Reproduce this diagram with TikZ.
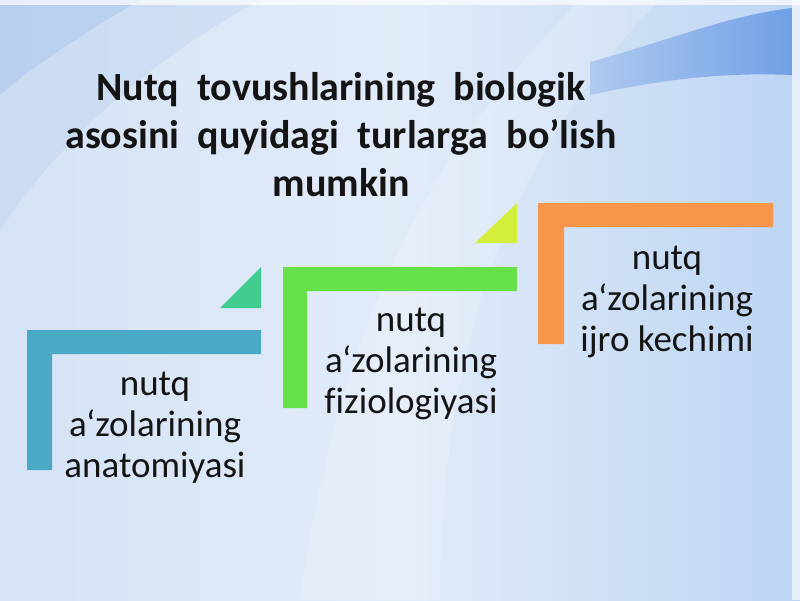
\documentclass[tikz,border=0pt]{standalone}
\usepackage{fontspec}
\setmainfont{Carlito}[Ligatures=NoCommon]
\usepackage{xcolor}
\usepackage{tikz}

\definecolor{bgmid}{HTML}{E2EBF8}
\definecolor{bgleft}{HTML}{D5E3F5}
\definecolor{bgright}{HTML}{BDD5F3}
\definecolor{swoosh}{HTML}{B3CBEE}
\definecolor{bandl}{HTML}{B0CAEF}
\definecolor{bandr}{HTML}{6FA0E6}
\definecolor{barblue}{HTML}{4AAAC5}
\definecolor{tribluegreen}{HTML}{40CC8F}
\definecolor{bargreen}{HTML}{66E14A}
\definecolor{triyellow}{HTML}{D4EE3C}
\definecolor{barorange}{HTML}{F7954A}

\begin{document}
\begin{tikzpicture}[x=1pt, y=-1pt,
    txt/.style={align=center, text=black!92, inner sep=0pt, font=\fontsize{37}{41}\selectfont},
    heading/.style={align=center, text=black!92, inner sep=0pt, font=\bfseries\fontsize{40}{48}\selectfont}]
    \useasboundingbox (0,0) rectangle (800,600);

    \shade[left color=bgleft, right color=bgright, middle color=bgmid] (0,0) rectangle (800,600);
    \fill[swoosh, opacity=0.8] (0,0) -- (140,0) .. controls (90,30) and (40,60) .. (0,95) -- cycle;
    \fill[swoosh, opacity=0.3] (0,95) .. controls (40,60) and (90,30) .. (140,0) -- (260,0) .. controls (150,60) and (60,140) .. (0,230) -- cycle;
    \fill[white, opacity=0.18] (300,600) .. controls (340,320) and (430,150) .. (580,0) -- (660,0) .. controls (510,150) and (440,350) .. (440,600) -- cycle;
    \shade[left color=bandl, right color=bandr] (590,62) .. controls (670,40) and (730,15) .. (792,8) -- (792,75) .. controls (720,72) and (660,80) .. (590,95) -- cycle;
    \fill[white, opacity=0.7] (0,0) rectangle (800,5);
    \fill[white, opacity=0.6] (792,0) rectangle (800,600);

    \node[heading] (head) at (341,135) {Nutq\ \ tovushlarining\ \ biologik\\asosini\ \ quyidagi\ \ turlarga\ \ bo’lish\\mumkin};

    \fill[barblue] (27,330) -- (261,330) -- (261,354) -- (52,354) -- (52,470) -- (27,470) -- cycle;
    \fill[tribluegreen] (220,308) -- (261,267) -- (261,308) -- cycle;
    \fill[bargreen] (283,267) -- (517,267) -- (517,291) -- (307,291) -- (307,408) -- (283,408) -- cycle;
    \fill[triyellow] (475,243) -- (517,203) -- (517,243) -- cycle;
    \fill[barorange] (538,203) -- (773,203) -- (773,227) -- (564,227) -- (564,344) -- (538,344) -- cycle;

    \node[txt] (anat) at (155,428) {nutq\\a‘zolarining\\anatomiyasi};
    \node[txt] (fizio) at (411,364) {nutq\\a‘zolarining\\fiziologiyasi};
    \node[txt] (ijro) at (667,302) {nutq\\a‘zolarining\\ijro kechimi};
\end{tikzpicture}
\end{document}
